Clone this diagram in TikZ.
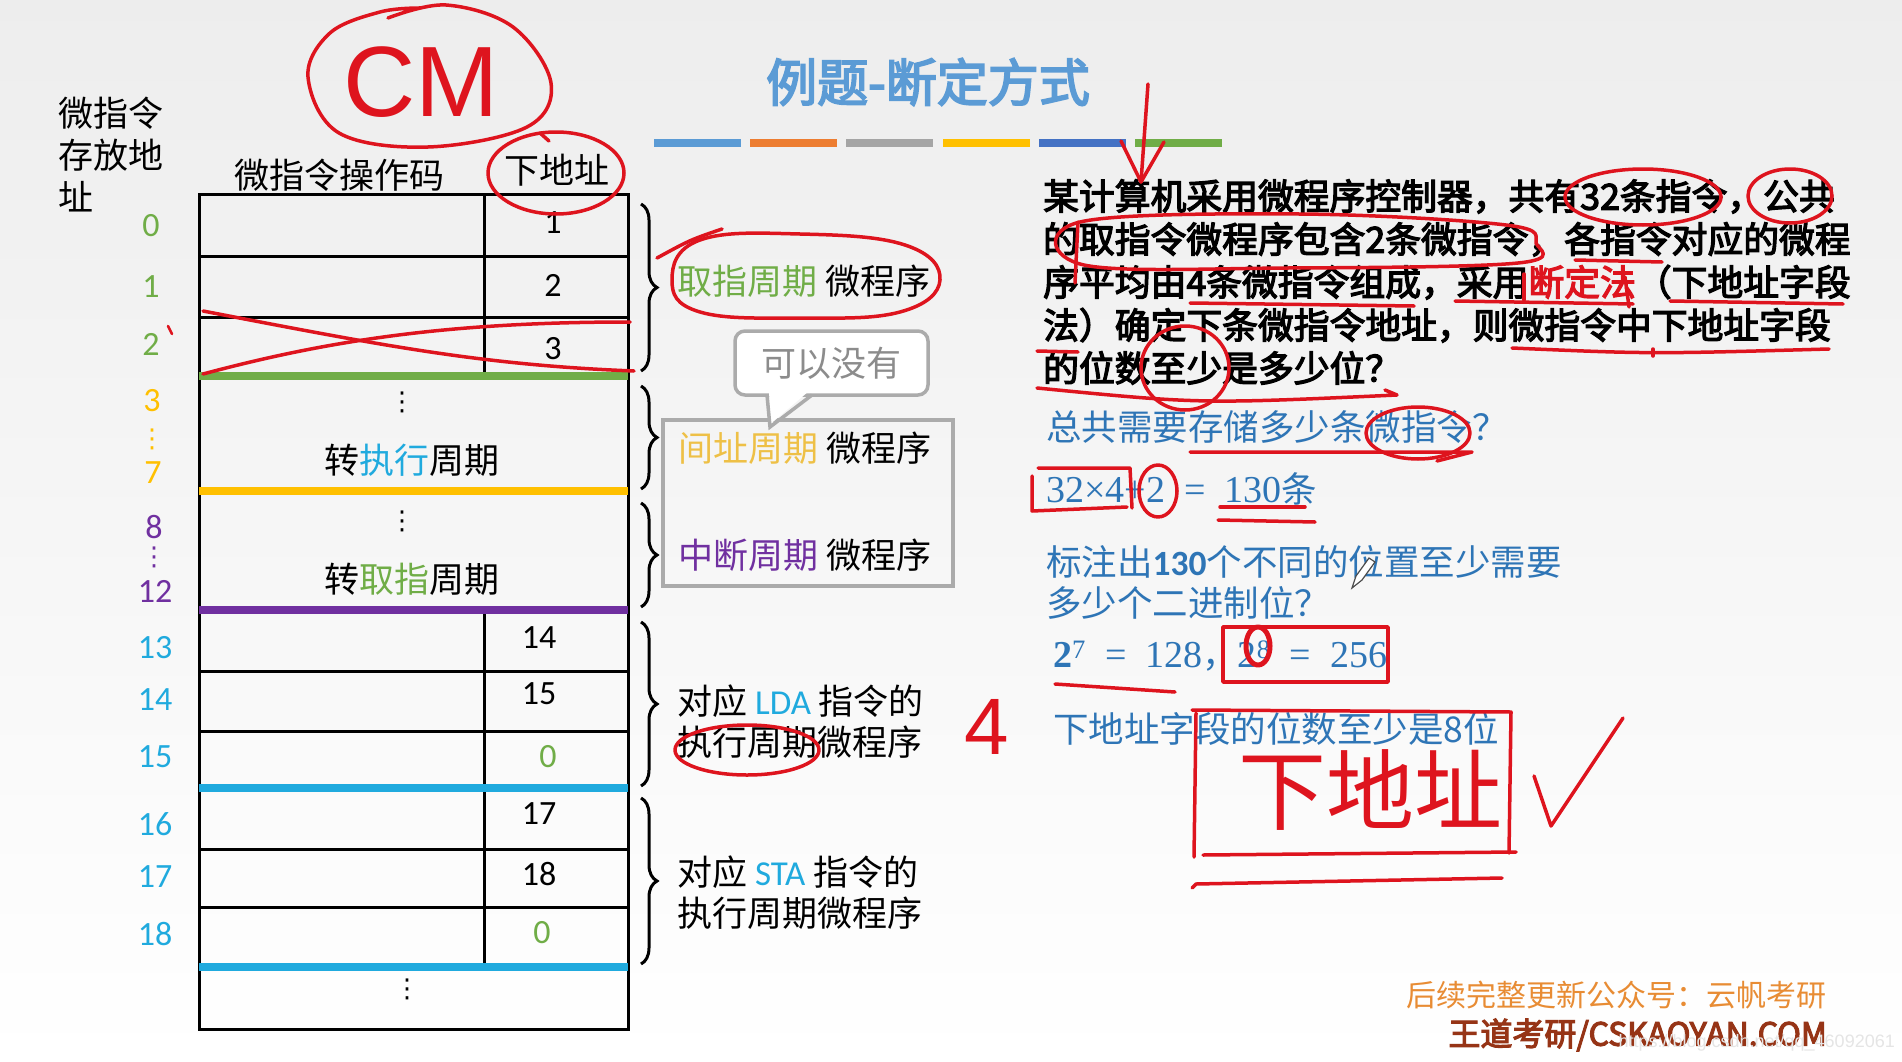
\documentclass[tikz,border=0pt]{standalone}
\usepackage{fontspec}
\setmainfont{Noto Sans CJK SC}
\newfontfamily\heavyfont[FakeBold=3.5]{Noto Sans CJK SC}
\newfontfamily\calfont{Carlito}
\newfontfamily\serfont{Liberation Serif}
\newfontfamily\symfont{DejaVu Sans}
\newfontfamily\handfont{Liberation Sans}
\usetikzlibrary{decorations.pathreplacing}

\definecolor{titleblue}{RGB}{91,155,213}
\definecolor{txtblue}{RGB}{46,117,182}
\definecolor{fetchgreen}{RGB}{112,173,71}
\definecolor{indgold}{RGB}{255,192,0}
\definecolor{indtext}{RGB}{238,192,70}
\definecolor{intpurple}{RGB}{112,48,160}
\definecolor{execcyan}{RGB}{32,170,222}
\definecolor{inkred}{RGB}{222,20,30}
\definecolor{wmorange}{RGB}{232,140,52}
\definecolor{wmbrown}{RGB}{150,52,22}
\definecolor{barorange}{RGB}{237,125,49}
\definecolor{bargray}{RGB}{165,165,165}
\definecolor{barnavy}{RGB}{68,114,196}

\newcommand{\fsz}[1]{\fontsize{#1}{#1}\selectfont}

\begin{document}
\begin{tikzpicture}[x=1pt, y=-1pt,
  every node/.style={inner sep=0pt, font=\fsz{35}},
  tabline/.style={line width=3pt},
  band/.style={line width=8pt},
  addr/.style={font=\calfont\fsz{34}},
  dotz/.style={font=\symfont\fsz{26}},
  brace/.style={decorate, decoration={brace, amplitude=16pt}, line width=3pt},
  ink/.style={draw=inkred, line width=3.5pt, line cap=round, line join=round},
  bubble/.style={draw=black!33, line width=3.5pt, rounded corners=10pt, fill=white,
    text=black!45, minimum width=193pt, minimum height=64pt},
  answer/.style={anchor=west, text=txtblue, font=\fsz{35.5}}]
  \useasboundingbox (0,0) rectangle (1902,1062);
  \shade[top color=black!7, bottom color=white] (0,0) rectangle (1902,1062);

  % title and colour bars
  \node[font=\heavyfont\fsz{51}, text=titleblue] (title) at (928,82) {例题-断定方式};
  \foreach \c [count=\i from 0] in {titleblue,barorange,bargray,indgold,barnavy,fetchgreen}
    \fill[\c] (654+96.2*\i,139) rectangle ++(87,8);

  % control memory table
  \node[anchor=north west, align=left, font=\fontsize{35}{42}\selectfont] (addrhead) at (58,97) {微指令\\存放地\\址};
  \node (hop) at (339,175) {微指令操作码};
  \node (hnext) at (557,170) {下地址};
  \draw[tabline] (199,194) rectangle (628,1029);
  \draw[tabline] (484,194) -- (484,376);
  \draw[tabline] (484,610) -- (484,967);
  \foreach \y in {256,317,671,731,849,907}
    \draw[tabline] (199,\y) -- (628,\y);
  \draw[band, fetchgreen] (199,376) -- (628,376);
  \draw[band, indgold] (199,491) -- (628,491);
  \draw[band, intpurple] (199,610) -- (628,610);
  \draw[band, execcyan] (199,788) -- (628,788);
  \draw[band, execcyan] (199,967) -- (628,967);

  % addresses
  \foreach \n/\y in {0/226,1/287,2/344}
    \node[addr, text=fetchgreen] (a\n) at (151,\y) {\n};
  \node[addr, text=indgold] (a3) at (152,401) {3};
  \node[dotz, text=indgold] (adots1) at (152,439) {⋮};
  \node[addr, text=indgold] (a7) at (153,473) {7};
  \node[addr, text=intpurple] (a8) at (154,527) {8};
  \node[dotz, text=intpurple] (adots2) at (154,557) {⋮};
  \node[addr, text=intpurple] (a12) at (155,591) {12};
  \foreach \n/\y in {13/648,14/700,15/757,16/824,17/877,18/934}
    \node[addr, text=execcyan] (a\n) at (155,\y) {\n};

  % next-address field
  \foreach \n/\x/\y in {1/553/223,2/553/285,3/553/349,14/539/638,15/539/694,17/539/814,18/539/874}
    \node[addr] (n\n) at (\x,\y) {\n};
  \node[addr, text=fetchgreen] (nz15) at (548,757) {0};
  \node[addr, text=fetchgreen] (nz18) at (542,933) {0};
  \node[dotz] (dots1) at (402,402) {⋮};
  \node (go1) at (412,460) {转\textcolor{execcyan}{执行}周期};
  \node[dotz] (dots2) at (402,521) {⋮};
  \node (go2) at (412,579) {转\textcolor{fetchgreen}{取指}周期};
  \node[dotz] (dots3) at (407,989) {⋮};

  % braces and programme names
  \draw[brace] (641,204) -- (641,371);
  \draw[brace] (641,386) -- (641,489);
  \draw[brace] (641,503) -- (641,607);
  \draw[brace] (641,622) -- (641,786);
  \draw[brace] (641,798) -- (641,964);
  \node[anchor=west] (pfetch) at (677,281) {\textcolor{fetchgreen}{取指周期} 微程序};
  \node[draw=black!33, line width=3.5pt, minimum width=290pt, minimum height=166pt] (optbox) at (808,503) {};
  \node[anchor=west] (pind) at (678,448) {\textcolor{indtext}{间址周期} 微程序};
  \node[anchor=west] (pint) at (678,555) {\textcolor{intpurple}{中断周期} 微程序};
  \node[bubble] (opt) at (831.5,363) {可以没有};
  \fill[white] (769,391) -- (770.5,424) -- (809,391) -- cycle;
  \draw[black!33, line width=3.5pt] (767,395) -- (770,427) -- (812,395);
  \node[anchor=west, align=left, font=\fontsize{35}{41}\selectfont] (plda) at (677,722)
    {对应 \textcolor{execcyan}{\calfont LDA} 指令的\\执行周期微程序};
  \node[anchor=west, align=left, font=\fontsize{35}{41}\selectfont] (psta) at (677,893)
    {对应 \textcolor{execcyan}{\calfont STA} 指令的\\执行周期微程序};

  % question
  \node[anchor=west, align=left, font=\heavyfont\fontsize{35.8}{43}\selectfont] (question) at (1043,282)
    {某计算机采用微程序控制器，共有32条指令，公共\\
     的取指令微程序包含2条微指令，各指令对应的微程\\
     序平均由4条微指令组成，采用\textcolor{inkred}{断定法}（下地址字段\\
     法）确定下条微指令地址，则微指令中下地址字段\\
     的位数至少是多少位？};

  % answer
  \node[answer] (q1) at (1046,427) {总共需要存储多少条微指令？};
  \node[answer] (calc) at (1046,489) {{\serfont\fsz{38}32×4+2\ \ =\ \ 130}条};
  \node[answer, align=left, font=\fontsize{35.5}{41}\selectfont] (q2) at (1046,582)
    {标注出{\calfont\bfseries 130}个不同的位置至少需要\\多少个二进制位？};
  \node[answer] (bits) at (1053,656)
    {{\serfont\fsz{38}\textbf{2}\textsuperscript{7}\ \ =\ \ 128}，{\serfont\fsz{38}2\textsuperscript{8}\ \ =\ \ 256}};
  \node[answer] (res) at (1053,729) {下地址字段的位数至少是8位};

  % watermark
  \node[anchor=east, text=wmorange, font=\fsz{30}] (wm1) at (1827,995) {后续完整更新公众号：云帆考研};
  \node[anchor=east, text=wmbrown, font=\heavyfont\fsz{32}] (wm2) at (1827,1035) {王道考研/CSKAOYAN.COM};
  \node[anchor=east, text=black!10, font=\handfont\fsz{18}] (wm3) at (1895,1043) {https://blog.csdn.net/qq\_46092061};

  % pen cursor
  \draw[black!70, line width=1.2pt, fill=white] (1352,588) -- (1356,576) -- (1369,558) -- (1375,562) -- (1362,580) -- cycle;

  % red ink
  \draw[ink] plot[smooth, tension=0.6] coordinates {(388,18) (446,5) (513,27) (551,83) (527,127) (428,147) (339,133) (308,77) (330,33) (380,12) (420,8)};
  \node[text=inkred, font=\handfont\fsz{100}] (cm) at (421,82) {CM};
  \draw[ink] (556,173) ellipse[x radius=68pt, y radius=41pt];
  \draw[ink] (540,133) -- (549,141);
  \draw[ink] (203,311) .. controls (380,345) and (480,365) .. (634,371);
  \draw[ink] (203,374) .. controls (330,340) and (450,322) .. (630,322);
  \draw[ink, line width=2.5pt] (168,326) -- (172,334);
  \draw[ink] plot[smooth cycle, tension=0.7] coordinates {(700,240) (800,234) (905,245) (940,280) (900,312) (800,318) (700,312) (672,280)};
  \draw[ink] (657,258) .. controls (690,240) .. (722,229);
  \draw[ink] (1148,84) -- (1141,182);
  \draw[ink] (1121,141) -- (1141,182) -- (1164,142);

  \draw[ink] (1643,197) ellipse[x radius=78pt, y radius=28pt];
  \draw[ink] (1790,196) ellipse[x radius=42pt, y radius=27pt];
  \draw[ink] plot[smooth cycle, tension=0.6] coordinates {(1080,222) (1299,214) (1506,225) (1536,243) (1518,263) (1288,268) (1084,265)};
  \draw[ink] (1078,222) -- (1075,283);
  \draw[ink] (1575,260) -- (1662,262);
  \draw[ink] (1190,303) -- (1414,306);
  \draw[ink] (1455,301) -- (1633,304);
  \draw[ink] (1524,274) -- (1524,300);
  \draw[ink] (1625,277) -- (1629,307);
  \draw[ink] (1670,301) -- (1843,304);
  \draw[ink] (1512,348) .. controls (1650,354) .. (1829,349);
  \draw[ink] (1653,349) -- (1653,356);
  \draw[ink] (1037,351) -- (1078,352);
  \draw[ink] (1185,368) ellipse[x radius=44pt, y radius=42pt];
  \draw[ink] (1037,388) .. controls (1200,404) .. (1397,395) -- (1385,390);

  \draw[ink] (1190,452) -- (1472,452) -- (1437,461);
  \draw[ink] (1418,433) ellipse[x radius=52pt, y radius=26pt];
  \draw[ink] (1038,468) -- (1130,468) -- (1132,508);
  \draw[ink] (1032,476) -- (1032,511) -- (1127,507);
  \draw[ink] (1158,491) ellipse[x radius=19pt, y radius=26pt];
  \draw[ink] (1220,507) -- (1305,507);
  \draw[ink] (1218,520) -- (1315,522);
  \draw[ink] (1223,627) rectangle (1388,682);
  \draw[ink, line width=5pt] (1258,646) ellipse[x radius=12pt, y radius=19pt];
  \draw[ink] (1055,684) -- (1175,692);

  \draw[ink] (747,750) ellipse[x radius=72pt, y radius=25pt];
  \node[text=inkred, font=\handfont\fsz{80}] (four) at (987,727) {4};
  \draw[ink] (1192,710) -- (1511,712) -- (1509,853);
  \draw[ink] (1196,713) -- (1194,857);
  \draw[ink] (1203,855) -- (1516,852);
  \draw[ink] (1502,878) .. controls (1350,881) .. (1196,884) -- (1192,888);
  \node[text=inkred, font=\fsz{88}] (hw) at (1370,790) {下地址};
  \draw[ink] (1534,776) -- (1551,826) -- (1623,718);
\end{tikzpicture}
\end{document}
